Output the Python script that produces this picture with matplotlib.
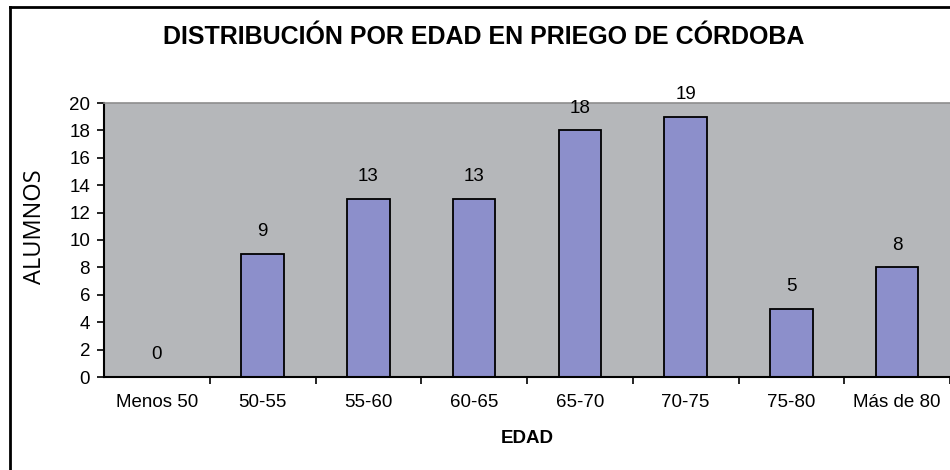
import matplotlib
matplotlib.use("Agg")
import matplotlib.pyplot as plt
from matplotlib.lines import Line2D

# Alumnos por grupo de edad
categorias = ["Menos 50", "50-55", "55-60", "60-65", "65-70", "70-75", "75-80", "Más de 80"]
alumnos = [0, 9, 13, 13, 18, 19, 5, 8]
yticks = [0, 2, 4, 6, 8, 10, 12, 14, 16, 18, 20]

plt.rcParams["font.family"] = ["Liberation Sans", "DejaVu Sans"]
fs = 13.5

fig = plt.figure(figsize=(9.5, 4.7), dpi=100)
ax = fig.add_axes([104 / 950, 1 - 377 / 470, 1 - 104 / 950, (377 - 103) / 470])
ax.set_facecolor("#b5b7ba")

x = list(range(len(categorias)))
bars = ax.bar(x, alumnos, width=0.4, color="#8c8fcb", edgecolor="black", linewidth=1.3)

for xi, v in zip(x, alumnos):
    ax.annotate(str(v), (xi, v), xytext=(0, 10), textcoords="offset points",
                ha="center", va="bottom", fontsize=fs)

ax.set_xlim(-0.5, len(categorias) - 0.5)
ax.set_ylim(0, 20)
ax.set_yticks(yticks)
ax.tick_params(axis="y", direction="out", length=5, width=1.2, labelsize=fs, pad=5)

# ticks on the category boundaries, labels at the centres
ax.set_xticks([i + 0.5 for i in x])
ax.set_xticklabels([])
ax.set_xticks(x, minor=True)
ax.set_xticklabels(categorias, minor=True, fontsize=fs)
ax.tick_params(axis="x", which="major", direction="out", length=5, width=1.2)
ax.tick_params(axis="x", which="minor", length=0, pad=12)

for s in ["left", "bottom"]:
    ax.spines[s].set_linewidth(1.5)
    ax.spines[s].set_color("black")
ax.spines["top"].set_color("#8e8e8e")
ax.spines["top"].set_linewidth(1.2)
ax.spines["right"].set_visible(False)

ax.set_xlabel("EDAD", fontsize=fs, fontweight="bold")
ax.xaxis.set_label_coords(0.5, -0.195)
ax.set_ylabel("ALUMNOS", fontsize=17, family=["Open Sans", "DejaVu Sans"])
ax.yaxis.set_label_coords(-0.067, 0.55)

fig.text(484 / 950, 1 - 37 / 470, "DISTRIBUCIÓN POR EDAD EN PRIEGO DE CÓRDOBA",
         ha="center", va="center", fontsize=18, fontweight="bold")

# marco exterior
fig.add_artist(Line2D([9.5 / 950, 9.5 / 950], [0, 1 - 6.5 / 470], color="black", lw=2,
                      transform=fig.transFigure))
fig.add_artist(Line2D([9.5 / 950, 1], [1 - 6.5 / 470, 1 - 6.5 / 470], color="black", lw=2,
                      transform=fig.transFigure))

fig.savefig("out.png", dpi=100)
